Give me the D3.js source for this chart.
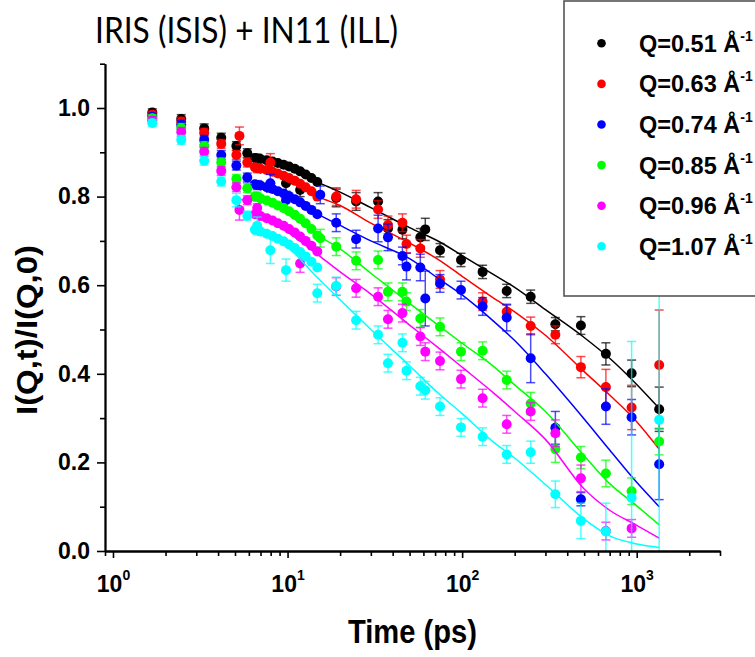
<!DOCTYPE html>
<html>
<head>
<meta charset="utf-8">
<script src="https://cdn.jsdelivr.net/npm/d3@7"></script>
<style>
  html, body { margin: 0; padding: 0; background: #fff; }
  svg { display: block; }
</style>
</head>
<body>
<script>
// ---------------- DATA ----------------
const seriesNames = ["Q=0.51 Å", "Q=0.63 Å", "Q=0.74 Å", "Q=0.85 Å", "Q=0.96 Å", "Q=1.07 Å"];
const seriesColors = ["#000000", "#ff0000", "#0000ff", "#00ff00", "#ff00ff", "#00ffff"];

// dense (IRIS) points: times (ps) and values
const tDense = [6.5, 7.0, 7.6, 8.2, 8.8, 9.5, 10.2, 11.0, 11.8, 12.7, 13.7, 14.8];
const dense051 = [0.887, 0.885, 0.882, 0.879, 0.876, 0.872, 0.868, 0.863, 0.857, 0.850, 0.842, 0.833];
const dense063 = [0.866, 0.863, 0.860, 0.856, 0.852, 0.847, 0.842, 0.836, 0.829, 0.821, 0.812, 0.800];
const dense074 = [0.828, 0.825, 0.821, 0.817, 0.812, 0.807, 0.801, 0.794, 0.787, 0.779, 0.770, 0.760];
const dense085 = [0.800, 0.796, 0.791, 0.786, 0.780, 0.774, 0.767, 0.759, 0.750, 0.740, 0.727, 0.712];
const dense096 = [0.760, 0.756, 0.751, 0.746, 0.740, 0.734, 0.727, 0.719, 0.710, 0.700, 0.689, 0.676];
const dense107 = [0.725, 0.721, 0.716, 0.711, 0.705, 0.699, 0.692, 0.684, 0.675, 0.665, 0.653, 0.640];

// points with error bars: [time (ps), value, error]
const pts051 = [[1.68,0.99,0.008],[2.46,0.975,0.01],[3.33,0.954,0.01],[4.17,0.933,0.01],[5.09,0.914,0.01],[5.88,0.898,0.01],[6.7,0.886,0.01],[9.8,0.83,0.02],[11.8,0.815,0.015],[19.0,0.797,0.02],[24.7,0.789,0.02],[33.0,0.789,0.02],[37.6,0.728,0.02],[45.5,0.725,0.02],[57.6,0.708,0.02],[61.5,0.726,0.025],[74.7,0.679,0.015],[98.5,0.657,0.015],[131,0.63,0.015],[180,0.587,0.015],[247,0.574,0.015],[342,0.512,0.015],[479,0.509,0.02],[666,0.445,0.025],[935,0.401,0.03],[1345,0.32,0.05]];
const pts063 = [[1.68,0.985,0.008],[2.46,0.969,0.01],[3.33,0.944,0.01],[4.17,0.919,0.01],[5.09,0.894,0.01],[5.3,0.937,0.02],[5.88,0.877,0.01],[6.7,0.864,0.01],[7.97,0.877,0.02],[19.0,0.80,0.02],[24.7,0.794,0.02],[33.0,0.771,0.02],[37.6,0.736,0.02],[45.5,0.741,0.02],[48,0.693,0.02],[57.6,0.683,0.02],[74.7,0.613,0.02],[131,0.563,0.02],[180,0.54,0.015],[247,0.508,0.02],[342,0.488,0.02],[479,0.415,0.024],[666,0.37,0.04],[935,0.324,0.05],[1345,0.42,0.124]];
const pts074 = [[1.68,0.98,0.008],[2.46,0.962,0.01],[3.33,0.928,0.01],[4.17,0.894,0.01],[5.09,0.87,0.01],[5.88,0.843,0.01],[6.7,0.826,0.01],[7.97,0.83,0.02],[9.8,0.792,0.02],[15.4,0.804,0.02],[19.0,0.741,0.02],[24.7,0.704,0.02],[33.0,0.728,0.03],[37.6,0.708,0.03],[45.5,0.666,0.02],[48,0.642,0.03],[57.6,0.64,0.03],[61.5,0.57,0.062],[74.7,0.604,0.02],[98.5,0.589,0.02],[131,0.552,0.02],[180,0.527,0.03],[247,0.435,0.055],[342,0.278,0.037],[479,0.117,0.015],[666,0.326,0.04],[935,0.302,0.04],[1345,0.196,0.08]];
const pts085 = [[1.68,0.977,0.008],[2.46,0.955,0.01],[3.33,0.914,0.01],[4.17,0.877,0.01],[5.09,0.84,0.01],[5.88,0.819,0.01],[6.7,0.80,0.01],[15.4,0.706,0.02],[19.0,0.687,0.02],[24.7,0.655,0.02],[33.0,0.657,0.02],[37.6,0.585,0.02],[45.5,0.585,0.02],[48,0.563,0.02],[57.6,0.525,0.02],[74.7,0.506,0.02],[98.5,0.45,0.02],[131,0.452,0.02],[180,0.386,0.02],[247,0.333,0.025],[342,0.23,0.03],[479,0.211,0.025],[666,0.175,0.03],[935,0.135,0.03],[1345,0.247,0.03]];
const pts096 = [[1.68,0.972,0.008],[2.46,0.946,0.01],[3.33,0.901,0.01],[4.17,0.858,0.01],[5.09,0.821,0.01],[5.3,0.77,0.023],[5.88,0.792,0.01],[6.7,0.774,0.01],[11.8,0.649,0.02],[19.0,0.597,0.02],[24.7,0.593,0.02],[33.0,0.574,0.02],[37.6,0.523,0.02],[45.5,0.537,0.02],[57.6,0.484,0.02],[61.5,0.45,0.02],[74.7,0.429,0.02],[98.5,0.388,0.02],[131,0.345,0.02],[180,0.286,0.02],[247,0.315,0.02],[342,0.266,0.03],[479,0.164,0.03],[666,0.045,0.02],[935,0.051,0.02]];
const pts107 = [[1.68,0.966,0.008],[2.46,0.928,0.01],[3.33,0.881,0.01],[4.17,0.834,0.01],[5.09,0.792,0.015],[5.88,0.757,0.01],[6.7,0.734,0.02],[7.97,0.679,0.03],[9.8,0.634,0.025],[14.8,0.582,0.02],[19.0,0.598,0.02],[24.7,0.521,0.02],[33.0,0.488,0.02],[37.6,0.424,0.02],[45.5,0.47,0.02],[48,0.407,0.02],[57.6,0.372,0.02],[61.5,0.363,0.02],[74.7,0.326,0.02],[98.5,0.279,0.02],[131,0.258,0.02],[180,0.218,0.02],[247,0.223,0.025],[342,0.128,0.03],[479,0.068,0.04],[666,0.044,0.064],[935,0.12,0.353],[1345,0.296,0.7]];

// fitted curves
const tFit = [6.5, 10, 15, 20, 30, 50, 75, 100, 150, 200, 300, 500, 700, 1000, 1345];
const fit051 = [0.887,0.866,0.832,0.81,0.775,0.73,0.697,0.667,0.625,0.595,0.545,0.482,0.435,0.376,0.322];
const fit063 = [0.866,0.845,0.80,0.78,0.74,0.695,0.655,0.62,0.572,0.54,0.487,0.405,0.352,0.292,0.23];
const fit074 = [0.828,0.806,0.76,0.735,0.70,0.66,0.612,0.578,0.52,0.475,0.40,0.298,0.228,0.155,0.10];
const fit085 = [0.80,0.76,0.712,0.682,0.627,0.559,0.506,0.469,0.418,0.375,0.315,0.215,0.152,0.102,0.059];
const fit096 = [0.76,0.72,0.668,0.63,0.58,0.51,0.455,0.415,0.358,0.315,0.252,0.14,0.092,0.058,0.029];
const fit107 = [0.725,0.686,0.615,0.567,0.50,0.418,0.352,0.31,0.247,0.21,0.15,0.072,0.034,0.016,0.008];

// axis ticks
const xMajorTicks = [1, 10, 100, 1000];
const xMinorTicks = [0.9, 2,3,4,5,6,7,8,9, 20,30,40,50,60,70,80,90, 200,300,400,500,600,700,800,900, 2000,3000];
const yMajorTicks = [0, 0.2, 0.4, 0.6, 0.8, 1.0];
const yMinorTicks = [0.1, 0.3, 0.5, 0.7, 0.9, 1.1];

const titleText = "IRIS (ISIS) + IN11 (ILL)";
const xLabel = "Time (ps)";
const yLabel = "I(Q,t)/I(Q,0)";

// ---------------- DRAW ----------------
const denseAll = [dense051, dense063, dense074, dense085, dense096, dense107];
const ptsAll = [pts051, pts063, pts074, pts085, pts096, pts107];
const fitAll = [fit051, fit063, fit074, fit085, fit096, fit107];

const W = 755, H = 657;
const svg = d3.select("body").append("svg").attr("width", W).attr("height", H);

const x = d3.scaleLog().domain([0.9, 3000]).range([105, 720]);
const y = d3.scaleLinear().domain([0, 1.1]).range([551, 63.7]);

const axisFont = "'Liberation Sans', Arial, sans-serif";

// plot content
const plot = svg.append("g");
const line = d3.line().x(d => x(d[0])).y(d => y(d[1])).curve(d3.curveMonotoneX);

ptsAll.forEach((pts, i) => {
  const col = seriesColors[i];
  const g = plot.append("g");
  // error bars
  pts.forEach(p => {
    const lo = Math.max(0, p[1] - p[2]);
    const hi = Math.min(1.1, p[1] + p[2]);
    const cx = x(p[0]);
    g.append("line").attr("x1", cx).attr("x2", cx).attr("y1", y(lo)).attr("y2", y(hi))
      .attr("stroke", col).attr("stroke-opacity", 0.7).attr("stroke-width", 1.5);
    if (p[1] + p[2] <= 1.1)
      g.append("line").attr("x1", cx - 4.5).attr("x2", cx + 4.5).attr("y1", y(hi)).attr("y2", y(hi))
        .attr("stroke", col).attr("stroke-opacity", 0.7).attr("stroke-width", 1.5);
    if (p[1] - p[2] >= 0)
      g.append("line").attr("x1", cx - 4.5).attr("x2", cx + 4.5).attr("y1", y(lo)).attr("y2", y(lo))
        .attr("stroke", col).attr("stroke-opacity", 0.7).attr("stroke-width", 1.5);
  });
  // dense points
  g.selectAll("circle.dense").data(tDense.map((t, k) => [t, denseAll[i][k]])).join("circle")
    .attr("class", "dense").attr("cx", d => x(d[0])).attr("cy", d => y(d[1])).attr("r", 5)
    .attr("fill", col);
  // points
  g.selectAll("circle.pt").data(pts).join("circle")
    .attr("class", "pt").attr("cx", d => x(d[0])).attr("cy", d => y(d[1])).attr("r", 5)
    .attr("fill", col);
  // fit
  g.append("path").attr("d", line(tFit.map((t, k) => [t, fitAll[i][k]])))
    .attr("fill", "none").attr("stroke", col).attr("stroke-width", 1.5);
});

// axes
function styleAxis(g) {
  g.selectAll("path.domain").attr("stroke", "#000").attr("stroke-width", 1.8);
  g.selectAll(".tick line").attr("stroke", "#000").attr("stroke-width", 1.6);
  g.selectAll(".tick text").attr("font-family", axisFont).attr("font-weight", "bold")
    .attr("font-size", 23).attr("fill", "#000");
}

const xMinor = svg.append("g").attr("transform", "translate(0,551)")
  .call(d3.axisBottom(x).tickValues(xMinorTicks).tickSize(5).tickSizeOuter(0).tickFormat(""));
styleAxis(xMinor);
const xMajor = svg.append("g").attr("transform", "translate(0,551)")
  .call(d3.axisBottom(x).tickValues(xMajorTicks).tickSize(7).tickSizeOuter(0).tickPadding(18));
styleAxis(xMajor);
xMajor.selectAll(".tick text").each(function(d) {
  const t = d3.select(this);
  const e = Math.round(Math.log10(d));
  t.text(null).attr("dy", null).attr("y", 41);
  t.append("tspan").text("10");
  t.append("tspan").text(e).attr("font-size", 14).attr("dy", -12);
});

const yMinor = svg.append("g").attr("transform", "translate(105,0)")
  .call(d3.axisLeft(y).tickValues(yMinorTicks).tickSize(5).tickSizeOuter(0).tickFormat(""));
styleAxis(yMinor);
const yMajor = svg.append("g").attr("transform", "translate(105,0)")
  .call(d3.axisLeft(y).tickValues(yMajorTicks).tickSize(8).tickSizeOuter(0).tickPadding(7)
    .tickFormat(d3.format(".1f")));
styleAxis(yMajor);

// titles
svg.append("text").attr("x", 95).attr("y", 43).text(titleText)
  .attr("font-family", "Lato, 'Open Sans', sans-serif").attr("font-size", 37)
  .attr("textLength", 303).attr("lengthAdjust", "spacingAndGlyphs").attr("fill", "#000");

svg.append("text").attr("x", 348).attr("y", 643).text(xLabel)
  .attr("font-family", axisFont).attr("font-weight", "bold").attr("font-size", 33)
  .attr("textLength", 129).attr("lengthAdjust", "spacingAndGlyphs").attr("fill", "#000");

svg.append("text").attr("transform", "translate(37,415) rotate(-90)").text(yLabel)
  .attr("font-family", axisFont).attr("font-weight", "bold").attr("font-size", 30)
  .attr("textLength", 170).attr("lengthAdjust", "spacingAndGlyphs").attr("fill", "#000");

// legend
const leg = svg.append("g");
leg.append("rect").attr("x", 564).attr("y", 1).attr("width", 220).attr("height", 295)
  .attr("fill", "#fff").attr("stroke", "#555").attr("stroke-width", 1.6);
seriesNames.forEach((name, i) => {
  const cy = 43.3 + 40.6 * i;
  leg.append("circle").attr("cx", 601.5).attr("cy", cy).attr("r", 4.3).attr("fill", seriesColors[i]);
  const t = leg.append("text").attr("x", 639).attr("y", cy + 8.4)
    .attr("font-family", axisFont).attr("font-weight", "bold").attr("font-size", 23.5).attr("fill", "#000");
  t.append("tspan").text(name);
  t.append("tspan").text("-1").attr("font-size", 14).attr("dy", -11);
});
</script>
</body>
</html>
